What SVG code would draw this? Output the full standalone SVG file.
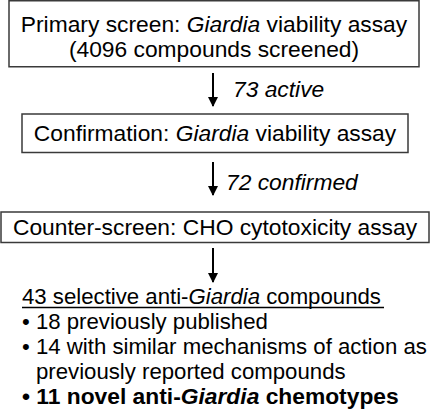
<svg xmlns="http://www.w3.org/2000/svg" width="433" height="412" viewBox="0 0 433 412">
<defs>
<style>
.box{fill:#fff;stroke:#3a3a3a;stroke-width:1.5}
text{font-family:"Liberation Sans",Arial,Helvetica,sans-serif;font-size:22.8px;fill:#000}
.c{text-anchor:middle}
.i{font-style:italic}
.b{font-weight:bold}
.s{font-size:22.2px}
.arr{stroke:#000;stroke-width:2;fill:none}
</style>
<marker id="ah" markerWidth="10" markerHeight="10" refX="9" refY="5" orient="auto" markerUnits="userSpaceOnUse">
<path d="M0,0 L10,5 L0,10 Z" fill="#000"/>
</marker>
</defs>
<rect width="433" height="412" fill="#fff"/>
<g id="node-primary">
<rect class="box" x="9" y="0.75" width="410" height="66"/>
<text class="c" x="214" y="32">Primary screen: <tspan class="i">Giardia</tspan> viability assay</text>
<text class="c" x="214" y="57">(4096 compounds screened)</text>
</g>
<g id="node-confirmation">
<rect class="box" x="22" y="114" width="386" height="38.5"/>
<text class="c" x="215" y="141">Confirmation: <tspan class="i">Giardia</tspan> viability assay</text>
</g>
<g id="node-counter">
<rect class="box" x="1" y="212" width="428" height="30.5"/>
<text class="c" x="215" y="235">Counter-screen: CHO cytotoxicity assay</text>
</g>
<g id="node-result">
<text class="s" x="22" y="304">43 selective anti-<tspan class="i">Giardia</tspan> compounds</text>
<line x1="22" y1="307.5" x2="384" y2="307.5" stroke="#000" stroke-width="1.5"/>
<text class="s" x="22" y="329">• 18 previously published</text>
<text class="s" x="22" y="354">• 14 with similar mechanisms of action as</text>
<text class="s" x="36" y="379">previously reported compounds</text>
<text x="22" y="404" class="b">• 11 novel anti-<tspan class="i">Giardia</tspan> chemotypes</text>
</g>
<g id="connectors">
<line class="arr" x1="213" y1="73" x2="213" y2="106" marker-end="url(#ah)"/>
<text class="i" x="233" y="97">73 active</text>
<line class="arr" x1="213" y1="162" x2="213" y2="195" marker-end="url(#ah)"/>
<text class="i" x="226" y="190">72 confirmed</text>
<line class="arr" x1="213" y1="248" x2="213" y2="282" marker-end="url(#ah)"/>
</g>
</svg>
